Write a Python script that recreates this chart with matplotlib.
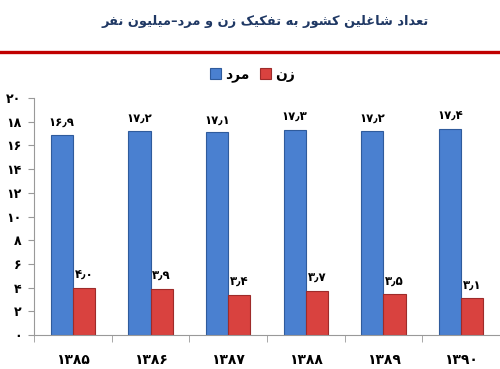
import matplotlib
matplotlib.use("Agg")
import matplotlib.pyplot as plt
from matplotlib.lines import Line2D

# ---------------- data ----------------
years = ["1385", "1386", "1387", "1388", "1389", "1390"]
men = [16.9, 17.2, 17.1, 17.3, 17.2, 17.4]
women = [4.0, 3.9, 3.4, 3.7, 3.5, 3.1]
yticks = [0, 2, 4, 6, 8, 10, 12, 14, 16, 18, 20]
title_text = "تعداد شاغلین کشور به تفکیک زن و مرد–میلیون نفر"
men_label = "مرد"
women_label = "زن"

# ------------- minimal Arabic/Persian shaping -------------
# char: (isolated, final, initial, medial) ; None for non dual-joining
FORMS = {
    "ا": ("\uFE8D", "\uFE8E", None, None),
    "ب": ("\uFE8F", "\uFE90", "\uFE91", "\uFE92"),
    "ت": ("\uFE95", "\uFE96", "\uFE97", "\uFE98"),
    "د": ("\uFEA9", "\uFEAA", None, None),
    "ر": ("\uFEAD", "\uFEAE", None, None),
    "ز": ("\uFEAF", "\uFEB0", None, None),
    "ش": ("\uFEB5", "\uFEB6", "\uFEB7", "\uFEB8"),
    "ع": ("\uFEC9", "\uFECA", "\uFECB", "\uFECC"),
    "غ": ("\uFECD", "\uFECE", "\uFECF", "\uFED0"),
    "ف": ("\uFED1", "\uFED2", "\uFED3", "\uFED4"),
    "ل": ("\uFEDD", "\uFEDE", "\uFEDF", "\uFEE0"),
    "م": ("\uFEE1", "\uFEE2", "\uFEE3", "\uFEE4"),
    "ن": ("\uFEE5", "\uFEE6", "\uFEE7", "\uFEE8"),
    "ه": ("\uFEE9", "\uFEEA", "\uFEEB", "\uFEEC"),
    "و": ("\uFEED", "\uFEEE", None, None),
    "ک": ("\uFB8E", "\uFB8F", "\uFB90", "\uFB91"),
    "ی": ("\uFBFC", "\uFBFD", "\uFBFE", "\uFBFF"),
}


def dual(c):
    return c in FORMS and FORMS[c][2] is not None


def shape(s):
    out = []
    for i, c in enumerate(s):
        if c not in FORMS:
            out.append(c)
            continue
        prev = s[i - 1] if i > 0 else ""
        nxt = s[i + 1] if i + 1 < len(s) else ""
        pj = dual(prev)
        nj = dual(c) and (nxt in FORMS)
        iso, fin, ini, med = FORMS[c]
        if pj and nj:
            out.append(med)
        elif pj:
            out.append(fin)
        elif nj:
            out.append(ini)
        else:
            out.append(iso)
    return "".join(out)[::-1]


FA_DIGITS = str.maketrans("0123456789.", "۰۱۲۳۴۵۶۷۸۹٫")


def fa(s):
    return str(s).translate(FA_DIGITS)


plt.rcParams['font.family'] = ['DejaVu Sans']

fig = plt.figure(figsize=(5.0, 3.69), dpi=100)
ax = fig.add_axes([0.068, 0.0921, 0.932, 0.6423])

blue = "#4a80d0"
blue_edge = "#2f5b9c"
red = "#d9423f"
red_edge = "#9e2b2a"

x = list(range(len(years)))
w = 0.287
ax.bar([i - w / 2 for i in x], men, width=w, color=blue, edgecolor=blue_edge, linewidth=0.8, label=shape(men_label))
ax.bar([i + w / 2 for i in x], women, width=w, color=red, edgecolor=red_edge, linewidth=0.8, label=shape(women_label))

for i in x:
    ax.text(i - w / 2, men[i] + 0.5, fa(f"{men[i]:.1f}"), ha="center", va="bottom",
            fontsize=8.5, fontweight="bold", color="black")
    ax.text(i + w / 2, women[i] + 0.5, fa(f"{women[i]:.1f}"), ha="center", va="bottom",
            fontsize=8.5, fontweight="bold", color="black")

ax.set_xlim(-0.5, len(years) - 0.5)
ax.set_ylim(0, 20)
ax.set_yticks(yticks)
ax.set_yticklabels([fa(t) for t in yticks], fontsize=9, fontweight="bold")
ax.set_xticks(x)
ax.set_xticklabels([fa(y) for y in years], fontsize=10, fontweight="bold")
ax.set_xticks([i - 0.5 for i in range(len(years) + 1)], minor=True)
ax.tick_params(axis="x", which="major", length=0, pad=13)
ax.tick_params(axis="x", which="minor", length=5, color="#999999", direction="out")
ax.tick_params(axis="y", length=4, color="#999999", pad=5)
for s in ["top", "right"]:
    ax.spines[s].set_visible(False)
ax.spines["left"].set_color("#999999")
ax.spines["bottom"].set_color("#999999")

leg = fig.legend(loc="center", bbox_to_anchor=(0.505, 0.797), ncol=2, frameon=False,
                 handlelength=0.8, handleheight=0.8, handletextpad=0.3,
                 columnspacing=0.8, prop={"weight": "bold", "size": 10})

fig.text(0.531, 0.942, shape(title_text), ha="center", va="center", fontsize=9.4,
         fontweight="bold", color="#1f3864")

fig.add_artist(Line2D([0, 1], [0.858, 0.858], transform=fig.transFigure,
                      color="#c00000", linewidth=2.4))

fig.savefig("out.png", dpi=100)
